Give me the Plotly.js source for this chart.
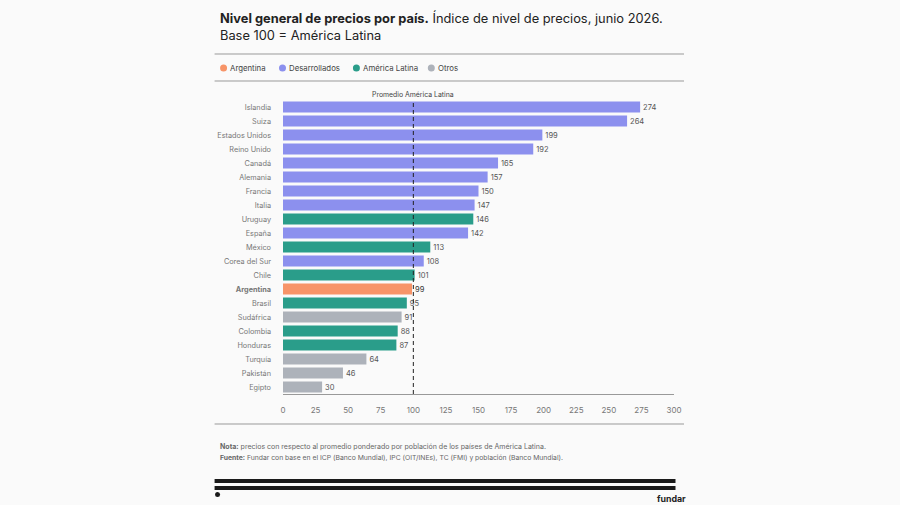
<!DOCTYPE html>
<html><head><meta charset="utf-8">
<script src="https://cdn.plot.ly/plotly-3.0.1.min.js"></script>
<style>html,body{margin:0;padding:0;background:#fafafa}</style></head>
<body><div id="chart" style="width:900px;height:505px"></div>
<script>
const desarrollados = ["Islandia","Suiza","Estados Unidos","Reino Unido","Canadá","Alemania","Francia","Italia","España","Corea del Sur"];
const desarrolladosValues = [274,264,199,192,165,157,150,147,142,108];
const latam = ["Uruguay","México","Chile","Brasil","Colombia","Honduras"];
const latamValues = [146,113,101,95,88,87];
const otros = ["Sudáfrica","Turquía","Pakistán","Egipto"];
const otrosValues = [91,64,46,30];
const argentina = ["<b>Argentina</b>"];
const argentinaValues = [99];
const order = ["Islandia","Suiza","Estados Unidos","Reino Unido","Canadá","Alemania","Francia","Italia","Uruguay","España","México","Corea del Sur","Chile","<b>Argentina</b>","Brasil","Sudáfrica","Colombia","Honduras","Turquía","Pakistán","Egipto"];
const xTicks = [0,25,50,75,100,125,150,175,200,225,250,275,300];
const legendNames = ["Argentina","Desarrollados","América Latina","Otros"];

const FONT = "Inter, 'Noto Sans', sans-serif";
const C = {arg:"#f79468", des:"#8c90ee", lat:"#2a9d8a", otr:"#adb2ba"};
const legendColors = [C.arg,C.des,C.lat,C.otr];
const legendDotX = [223,282,356,431];
const W = 900, H = 505;
const L = 282.5, T = 100, PW = 391.5, PH = 294;
const fx = v => (v - L) / PW, fy = v => (T + PH - v) / PH;

function bar(cats, vals, color, textColor) {
  return {type:"bar", orientation:"h", y:cats, x:vals, text:vals.map(String),
    textposition:"outside", cliponaxis:false, constraintext:"none",
    textfont:{family:FONT,size:7.5,color:textColor||"#555"},
    marker:{color:color,line:{width:0}}, showlegend:false, hoverinfo:"skip"};
}
const data = [
  bar(desarrollados,desarrolladosValues,C.des),
  bar(latam,latamValues,C.lat),
  bar(otros,otrosValues,C.otr),
  bar(argentina,argentinaValues,C.arg,"#333")
];
function hr(x0,x1,y,color,w){
  return {type:"line",xref:"paper",yref:"paper",x0:fx(x0),x1:fx(x1),y0:fy(y),y1:fy(y),line:{color:color,width:w}};
}
function rect(x0,x1,y0,y1){
  return {type:"rect",xref:"paper",yref:"paper",x0:fx(x0),x1:fx(x1),y0:fy(y1),y1:fy(y0),fillcolor:"#1a1a1a",line:{width:0}};
}
function dot(cx,cy,r,color){
  return {type:"circle",xref:"paper",yref:"paper",x0:fx(cx-r),x1:fx(cx+r),y0:fy(cy+r),y1:fy(cy-r),fillcolor:color,line:{width:0}};
}
function note(text,x,y,size,color,anchor){
  return {text:text,xref:"paper",yref:"paper",x:fx(x),y:fy(y),xanchor:anchor||"left",yanchor:"middle",showarrow:false,borderpad:0,borderwidth:0,font:{family:FONT,size:size,color:color}};
}
const layout = {
  width:W,height:H,paper_bgcolor:"#fafafa",plot_bgcolor:"#fafafa",
  margin:{l:L,r:W-L-PW,t:T,b:H-T-PH,pad:0},
  font:{family:FONT,color:"#555",size:8},
  showlegend:false,
  barmode:"overlay",bargap:0.2,
  title:{text:"<b>Nivel general de precios por país.</b> Índice de nivel de precios, junio 2026.<br>Base 100 = América Latina",
    x:220/W,xanchor:"left",xref:"container",y:1-23/H,yref:"container",yanchor:"middle",
    font:{family:FONT,size:12.85,color:"#222"}},
  xaxis:{range:[0,300],tickmode:"array",tickvals:xTicks,ticktext:xTicks.map(String),
    showgrid:false,zeroline:false,showline:true,linecolor:"#999",linewidth:1,ticks:"",
    tickfont:{family:FONT,size:8,color:"#777"},ticklabelstandoff:8,fixedrange:true},
  yaxis:{categoryorder:"array",categoryarray:order,autorange:false,range:[20.5,-0.5],
    showgrid:false,zeroline:false,showline:false,ticks:"",
    tickfont:{family:FONT,size:7.3,color:"#777"},ticklabelstandoff:11,fixedrange:true},
  shapes:[
    {type:"line",xref:"x",yref:"paper",x0:100,x1:100,y0:0,y1:1,layer:"above",line:{color:"#222",width:1,dash:"4px,3px"}},
    hr(214,684,54,"#999",1),hr(214,684,81,"#999",1),hr(214,684,424,"#999",1),
    rect(214,675.5,479,483),rect(214,675.5,486,490),
    dot(217,494.5,2.5,"#1a1a1a")
  ].concat(legendColors.map((c,i)=>dot(legendDotX[i],68,3.5,c))),
  annotations:[
    {text:"Promedio América Latina",xref:"x",yref:"paper",x:100,y:fy(94.5),xanchor:"center",yanchor:"middle",showarrow:false,font:{family:FONT,size:6.9,color:"#444"}},
    note("<b>Nota:</b> precios con respecto al promedio ponderado por población de los países de América Latina.",219,446,7,"#666"),
    note("<b>Fuente:</b> Fundar con base en el ICP (Banco Mundial), IPC (OIT/INEs), TC (FMI) y población (Banco Mundial).",219,457,6.8,"#666"),
    note("<b>fundar</b>",686,498,8.8,"#222","right")
  ].concat(legendNames.map((n,i)=>note(n,legendDotX[i]+6.5,68,7.8,"#444")))
};
Plotly.newPlot("chart",data,layout,{displayModeBar:false,responsive:false});
</script></body></html>
